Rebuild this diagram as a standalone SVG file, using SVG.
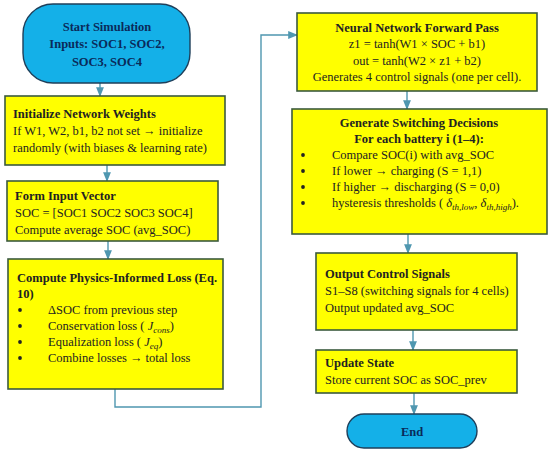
<svg xmlns="http://www.w3.org/2000/svg" width="550" height="455" viewBox="0 0 550 455">
<style>
.box{fill:#FFFF00;stroke:#3B5A3E;stroke-width:1.6}
.term{fill:#14B0E8;stroke:#1F3F5A;stroke-width:1.4}
.t{font-family:"Liberation Serif","DejaVu Serif",serif;font-size:12.5px;fill:#222}
.b{font-weight:bold}
.tt{font-family:"Liberation Serif","DejaVu Serif",serif;font-size:12.5px;font-weight:bold;fill:#0A2A5A}
.c{text-anchor:middle}
.i{font-style:italic}
.line{fill:none;stroke:#4F97B0;stroke-width:1.4}
.dot{fill:#222}
</style>
<defs>
<marker id="ah" viewBox="0 0 10 10" refX="9" refY="5" markerWidth="7" markerHeight="7" orient="auto">
<path d="M0,1 L10,5 L0,9 z" fill="#4F97B0"/>
</marker>
</defs>
<g id="connectors">
<path class="line" marker-end="url(#ah)" d="M100,83 V96"/>
<path class="line" marker-end="url(#ah)" d="M107,165 V181"/>
<path class="line" marker-end="url(#ah)" d="M108,241 V259"/>
<path class="line" marker-end="url(#ah)" d="M115,389 V407 H261 V35 H297"/>
<path class="line" marker-end="url(#ah)" d="M407,91 V109"/>
<path class="line" marker-end="url(#ah)" d="M408,234 V253"/>
<path class="line" marker-end="url(#ah)" d="M413,330 V350"/>
<path class="line" marker-end="url(#ah)" d="M414,393 V414"/>
</g>
<g id="start">
<rect class="term" x="23" y="4" width="167" height="79" rx="30"/>
<text class="tt c" x="107" y="31">Start Simulation</text>
<text class="tt c" x="107" y="48">Inputs: SOC1, SOC2,</text>
<text class="tt c" x="107" y="66">SOC3, SOC4</text>
</g>
<g id="init">
<rect class="box" x="5" y="96" width="220" height="69"/>
<text class="t b" x="13" y="118">Initialize Network Weights</text>
<text class="t" x="13" y="135">If W1, W2, b1, b2 not set → initialize</text>
<text class="t" x="13" y="152">randomly (with biases &amp; learning rate)</text>
</g>
<g id="form">
<rect class="box" x="7" y="181" width="211" height="60"/>
<text class="t b" x="15" y="200">Form Input Vector</text>
<text class="t" x="15" y="217">SOC = [SOC1 SOC2 SOC3 SOC4]</text>
<text class="t" x="15" y="234">Compute average SOC (avg_SOC)</text>
</g>
<g id="loss">
<rect class="box" x="8" y="259" width="215" height="130"/>
<text class="t b" x="17" y="282">Compute Physics-Informed Loss (Eq.</text>
<text class="t b" x="17" y="298">10)</text>
<circle class="dot" cx="20" cy="310" r="1.9"/><text class="t" x="48" y="314">ΔSOC from previous step</text>
<circle class="dot" cx="20" cy="326" r="1.9"/><text class="t" x="48" y="330">Conservation loss ( <tspan class="i">J</tspan><tspan class="i" font-size="9" dy="3">cons</tspan><tspan dy="-3">)</tspan></text>
<circle class="dot" cx="20" cy="342" r="1.9"/><text class="t" x="48" y="346">Equalization loss ( <tspan class="i">J</tspan><tspan class="i" font-size="9" dy="3">eq</tspan><tspan dy="-3">)</tspan></text>
<circle class="dot" cx="20" cy="358" r="1.9"/><text class="t" x="48" y="362">Combine losses → total loss</text>
</g>
<g id="forward">
<rect class="box" x="297" y="13" width="240" height="78"/>
<text class="t b c" x="417" y="32">Neural Network Forward Pass</text>
<text class="t c" x="417" y="48">z1 = tanh(W1 × SOC + b1)</text>
<text class="t c" x="417" y="65">out = tanh(W2 × z1 + b2)</text>
<text class="t c" x="417" y="81">Generates 4 control signals (one per cell).</text>
</g>
<g id="switch">
<rect class="box" x="292" y="109" width="255" height="125"/>
<text class="t b c" x="419" y="127">Generate Switching Decisions</text>
<text class="t b c" x="419" y="143">For each battery i (1–4):</text>
<circle class="dot" cx="303" cy="155" r="1.9"/><text class="t" x="332" y="159">Compare SOC(i) with avg_SOC</text>
<circle class="dot" cx="303" cy="171" r="1.9"/><text class="t" x="332" y="175">If lower → charging (S = 1,1)</text>
<circle class="dot" cx="303" cy="187" r="1.9"/><text class="t" x="332" y="191">If higher → discharging (S = 0,0)</text>
<circle class="dot" cx="303" cy="203" r="1.9"/><text class="t" x="332" y="207">hysteresis thresholds ( <tspan class="i">δ</tspan><tspan class="i" font-size="9" dy="3">th,low</tspan><tspan dy="-3">,  </tspan><tspan class="i">δ</tspan><tspan class="i" font-size="9" dy="3">th,high</tspan><tspan dy="-3">).</tspan></text>
</g>
<g id="output">
<rect class="box" x="316" y="253" width="201" height="77"/>
<text class="t b" x="325" y="278">Output Control Signals</text>
<text class="t" x="325" y="295">S1–S8 (switching signals for 4 cells)</text>
<text class="t" x="325" y="312">Output updated avg_SOC</text>
</g>
<g id="update">
<rect class="box" x="316" y="350" width="201" height="43"/>
<text class="t b" x="325" y="367">Update State</text>
<text class="t" x="325" y="384">Store current SOC as SOC_prev</text>
</g>
<g id="end">
<rect class="term" x="347" y="414" width="130" height="34" rx="17"/>
<text class="tt c" x="412" y="436">End</text>
</g>
</svg>
